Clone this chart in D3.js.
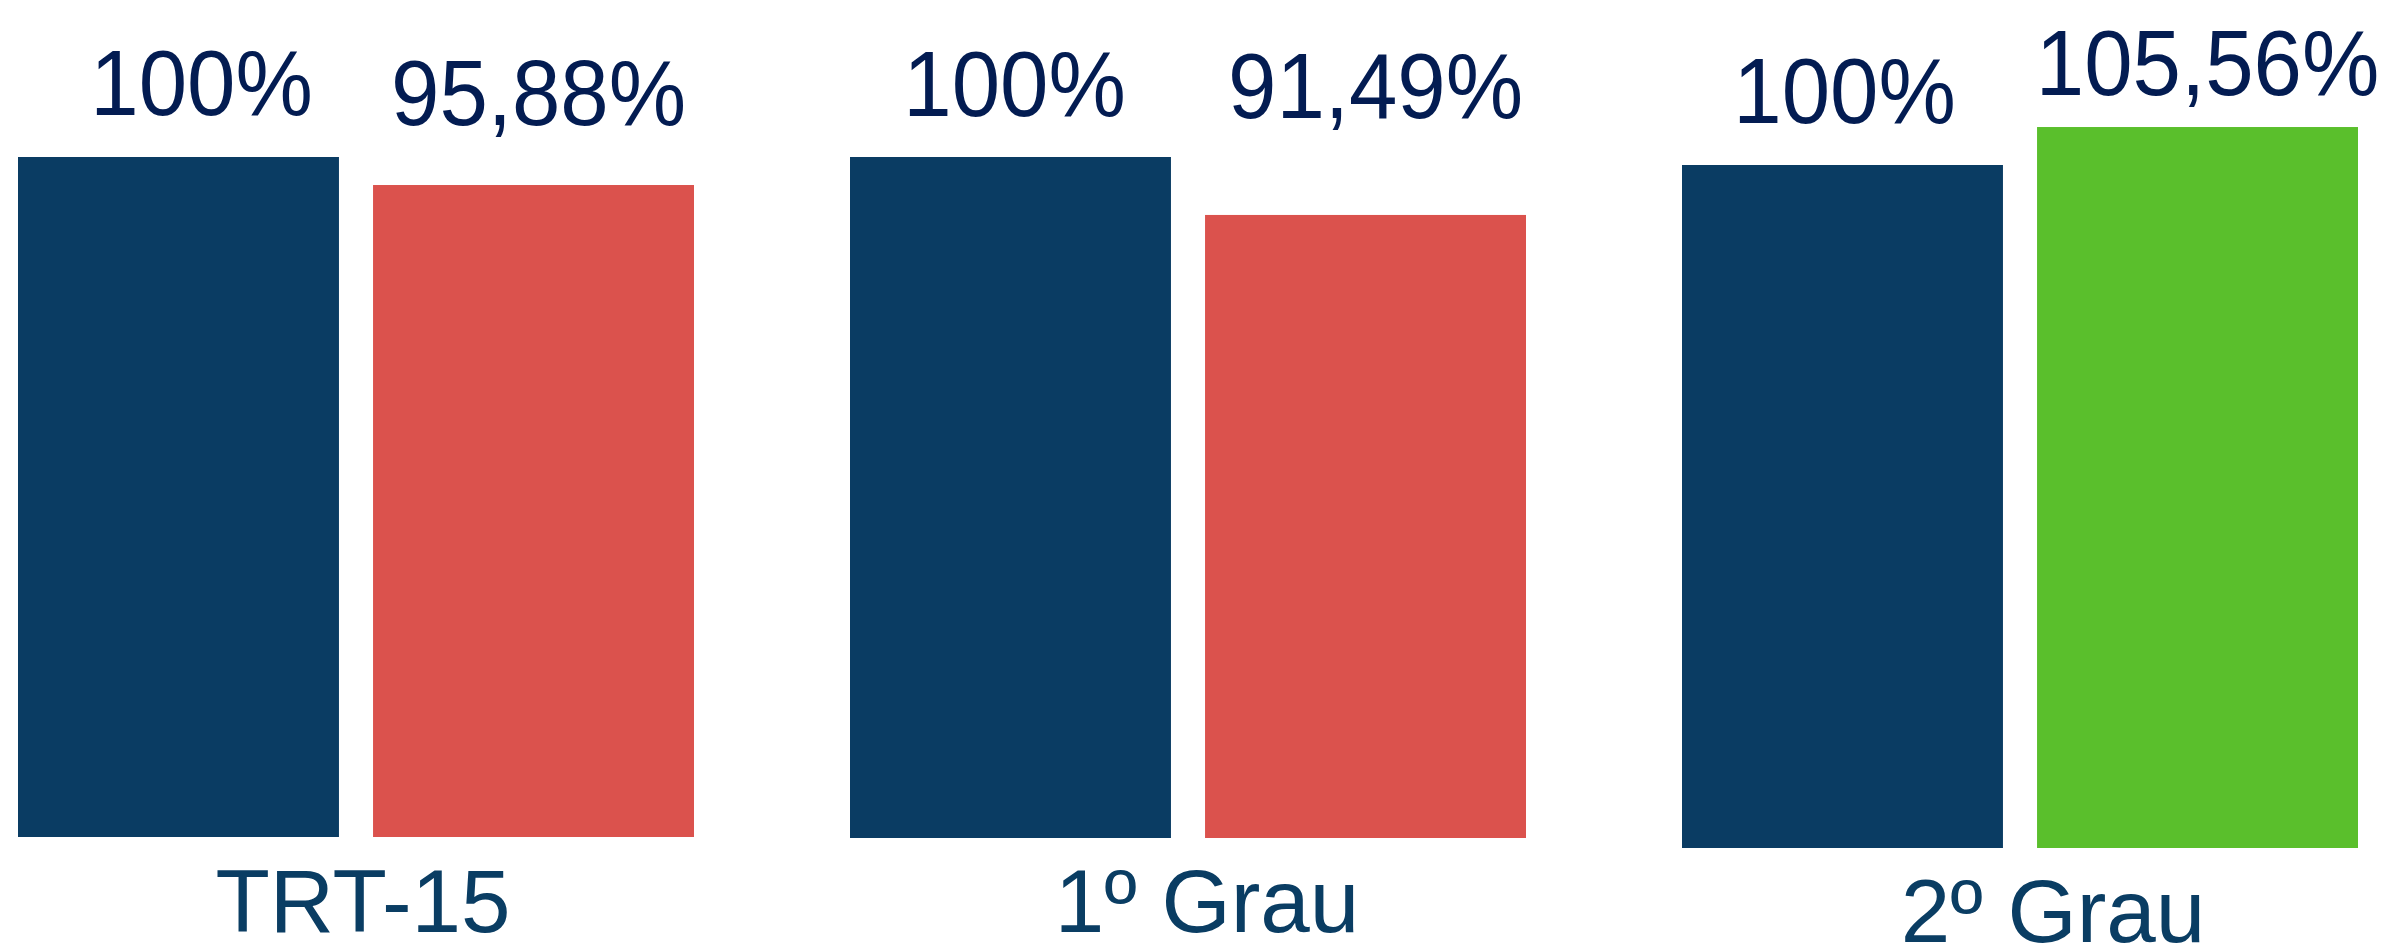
<!DOCTYPE html>
<html>
<head>
<meta charset="utf-8">
<script src="https://cdn.jsdelivr.net/npm/d3@7"></script>
<style>
  html, body { margin: 0; padding: 0; background: #ffffff; }
  svg { display: block; }
  text { font-family: "Liberation Sans", Arial, sans-serif; }
</style>
</head>
<body>
<svg id="chart" width="2385" height="948"></svg>
<script>
// ---- data ----
const categories = ["TRT-15", "1º Grau", "2º Grau"];
const seriesA = [100, 100, 100];            // reference (blue)
const seriesB = [95.88, 91.49, 105.56];     // comparison
const labelsA = ["100%", "100%", "100%"];
const labelsB = ["95,88%", "91,49%", "105,56%"];

// ---- layout / style ----
const blue = "#0a3c63", red = "#db524d", green = "#5abf2c";
const valueColor = "#031c52", catColor = "#0a3d63";
const baselines = [837, 838, 848];
const px100 = [680, 681, 683];
const labelGapA = [42, 41, 42];
const labelGapB = [60, 97, 32];
const labelDxA = [23, 4, 2];
const labelDxB = [5, 10, 10];
const catDx = [7, 19, 33];
const catBaseline = [932, 932, 942];

const svg = d3.select("#chart");

const x0 = d3.scaleBand().domain(categories).range([18, 2358]).paddingInner(0.1875).paddingOuter(0);
const x1 = d3.scaleBand().domain([0, 1]).range([0, x0.bandwidth()]).paddingInner(0.096).paddingOuter(0);

const rows = categories.map((c, i) => ({
  cat: c, i,
  vals: [
    { k: 0, v: seriesA[i], label: labelsA[i], color: blue, gap: labelGapA[i], dx: labelDxA[i] },
    { k: 1, v: seriesB[i], label: labelsB[i], color: seriesB[i] >= 100 ? green : red, gap: labelGapB[i], dx: labelDxB[i] }
  ]
}));

const g = svg.selectAll("g.grp").data(rows).join("g")
  .attr("class", "grp")
  .attr("transform", d => `translate(${x0(d.cat)},0)`);

g.each(function(d) {
  const y = d3.scaleLinear().domain([0, 100]).range([baselines[d.i], baselines[d.i] - px100[d.i]]);
  const sel = d3.select(this);
  sel.selectAll("rect").data(d.vals).join("rect")
    .attr("x", v => x1(v.k))
    .attr("width", x1.bandwidth())
    .attr("y", v => y(v.v))
    .attr("height", v => y(0) - y(v.v))
    .attr("fill", v => v.color);
  sel.selectAll("text.val").data(d.vals).join("text")
    .attr("class", "val")
    .attr("transform", v => `translate(${x1(v.k) + x1.bandwidth() / 2 + v.dx},${y(v.v) - v.gap}) scale(1,1.07)`)
    .attr("text-anchor", "middle")
    .attr("font-size", 87)
    .attr("fill", valueColor)
    .text(v => v.label);
  sel.append("text")
    .attr("class", "cat")
    .attr("x", x0.bandwidth() / 2 + catDx[d.i])
    .attr("y", catBaseline[d.i])
    .attr("text-anchor", "middle")
    .attr("font-size", 89)
    .attr("fill", catColor)
    .text(d.cat);
});
</script>
</body>
</html>
